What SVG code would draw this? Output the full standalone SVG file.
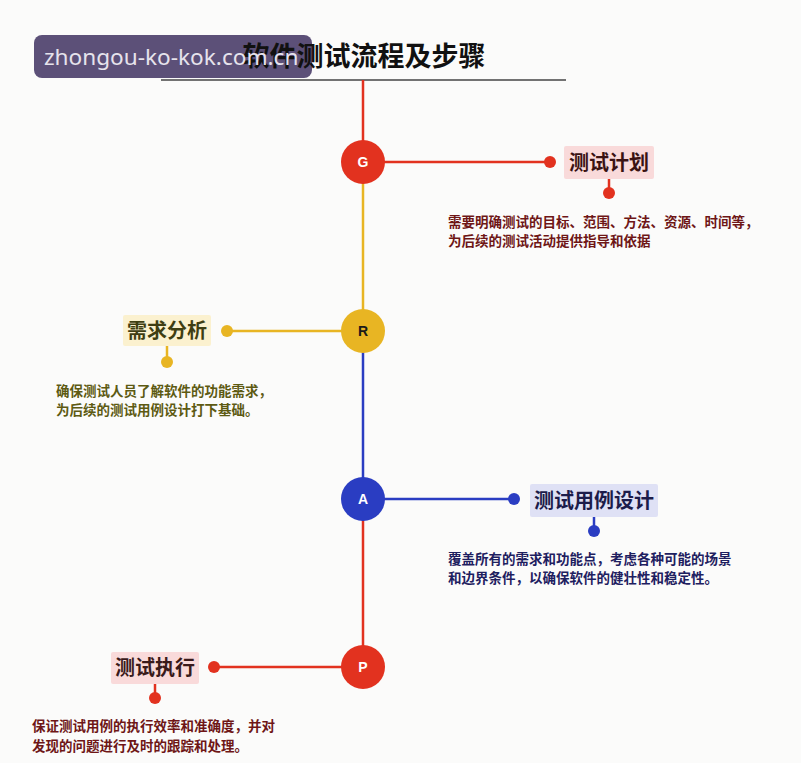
<svg xmlns="http://www.w3.org/2000/svg" width="801" height="763" viewBox="0 0 801 763">
<style>
.title{font-family:"Noto Sans CJK SC","Noto Sans",sans-serif;font-weight:700;font-size:27px;fill:#111}
.lbl{font-family:"Noto Sans CJK SC","Noto Sans",sans-serif;font-weight:700;font-size:20px}
.desc{font-family:"Noto Sans CJK SC","Noto Sans",sans-serif;font-weight:700;font-size:13.5px}
.letter{font-family:"Liberation Sans","Noto Sans",sans-serif;font-weight:700;font-size:14px;text-anchor:middle}
.wm{font-family:"Noto Sans","DejaVu Sans",sans-serif;font-size:22.6px;fill:#e6e3ec}
</style>
<rect width="801" height="763" fill="#fbfbfa"/>
<rect id="watermark-box" x="34" y="35" width="278" height="43" rx="8" fill="#5c5078"/>
<g id="title">
<text class="title" x="364" y="66" text-anchor="middle">软件测试流程及步骤</text>
<line x1="161" y1="80" x2="566" y2="80" stroke="#444" stroke-width="1.5"/>
</g>
<g id="connectors" fill="none" stroke-width="2.5">
<line x1="363" y1="80" x2="363" y2="162" stroke="#e2321f"/>
<line x1="363" y1="162" x2="363" y2="330" stroke="#e8b523"/>
<line x1="363" y1="330" x2="363" y2="499" stroke="#2a3dc2"/>
<line x1="363" y1="499" x2="363" y2="667" stroke="#e2321f"/>
<line x1="363" y1="162" x2="550" y2="162" stroke="#e2321f"/>
<line x1="609" y1="179" x2="609" y2="193" stroke="#e2321f"/>
<line x1="363" y1="331" x2="227" y2="331" stroke="#e8b523"/>
<line x1="167" y1="346" x2="167" y2="362" stroke="#e8b523"/>
<line x1="363" y1="499" x2="514" y2="499" stroke="#2a3dc2"/>
<line x1="594" y1="517" x2="594" y2="531" stroke="#2a3dc2"/>
<line x1="363" y1="667" x2="214" y2="667" stroke="#e2321f"/>
<line x1="155" y1="684" x2="155" y2="698" stroke="#e2321f"/>
</g>
<g id="node-G">
<circle cx="363" cy="162" r="22" fill="#e2321f"/>
<text class="letter" x="363" y="167" fill="#fff">G</text>
<circle cx="550" cy="162" r="6" fill="#e2321f"/>
<rect x="564" y="146" width="90" height="33" rx="2" fill="#f9dada"/>
<text class="lbl" x="609" y="170" text-anchor="middle" fill="#3a1212">测试计划</text>
<circle cx="609" cy="193" r="6" fill="#e2321f"/>
<text class="desc" fill="#6e1616"><tspan x="448" y="227">需要明确测试的目标、范围、方法、资源、时间等，</tspan><tspan x="448" y="246">为后续的测试活动提供指导和依据</tspan></text>
</g>
<g id="node-R">
<circle cx="363" cy="331" r="22" fill="#e8b523"/>
<text class="letter" x="363" y="336" fill="#1a1a1a">R</text>
<circle cx="227" cy="331" r="6" fill="#e8b523"/>
<rect x="123" y="315" width="88" height="31" rx="2" fill="#fbf1cf"/>
<text class="lbl" x="167" y="338" text-anchor="middle" fill="#3f3e12">需求分析</text>
<circle cx="167" cy="362" r="6" fill="#e8b523"/>
<text class="desc" fill="#5d5a12"><tspan x="56" y="396">确保测试人员了解软件的功能需求，</tspan><tspan x="56" y="415">为后续的测试用例设计打下基础。</tspan></text>
</g>
<g id="node-A">
<circle cx="363" cy="499" r="22" fill="#2a3dc2"/>
<text class="letter" x="363" y="504" fill="#fff">A</text>
<circle cx="514" cy="499" r="6" fill="#2a3dc2"/>
<rect x="530" y="484" width="128" height="33" rx="2" fill="#dfe1f5"/>
<text class="lbl" x="594" y="508" text-anchor="middle" fill="#1c1c4a">测试用例设计</text>
<circle cx="594" cy="531" r="6" fill="#2a3dc2"/>
<text class="desc" fill="#1e2060"><tspan x="448" y="564">覆盖所有的需求和功能点，考虑各种可能的场景</tspan><tspan x="448" y="583">和边界条件，以确保软件的健壮性和稳定性。</tspan></text>
</g>
<g id="node-P">
<circle cx="363" cy="667" r="22" fill="#e2321f"/>
<text class="letter" x="363" y="672" fill="#fff">P</text>
<circle cx="214" cy="667" r="6" fill="#e2321f"/>
<rect x="111" y="652" width="88" height="32" rx="2" fill="#f9dada"/>
<text class="lbl" x="155" y="675" text-anchor="middle" fill="#3a1a1a">测试执行</text>
<circle cx="155" cy="698" r="6" fill="#e2321f"/>
<text class="desc" fill="#6e1616"><tspan x="32" y="731">保证测试用例的执行效率和准确度，并对</tspan><tspan x="32" y="751">发现的问题进行及时的跟踪和处理。</tspan></text>
</g>
<g id="watermark">
<text class="wm" x="44" y="65">zhongou-ko-kok.com.cn</text>
</g>
</svg>
